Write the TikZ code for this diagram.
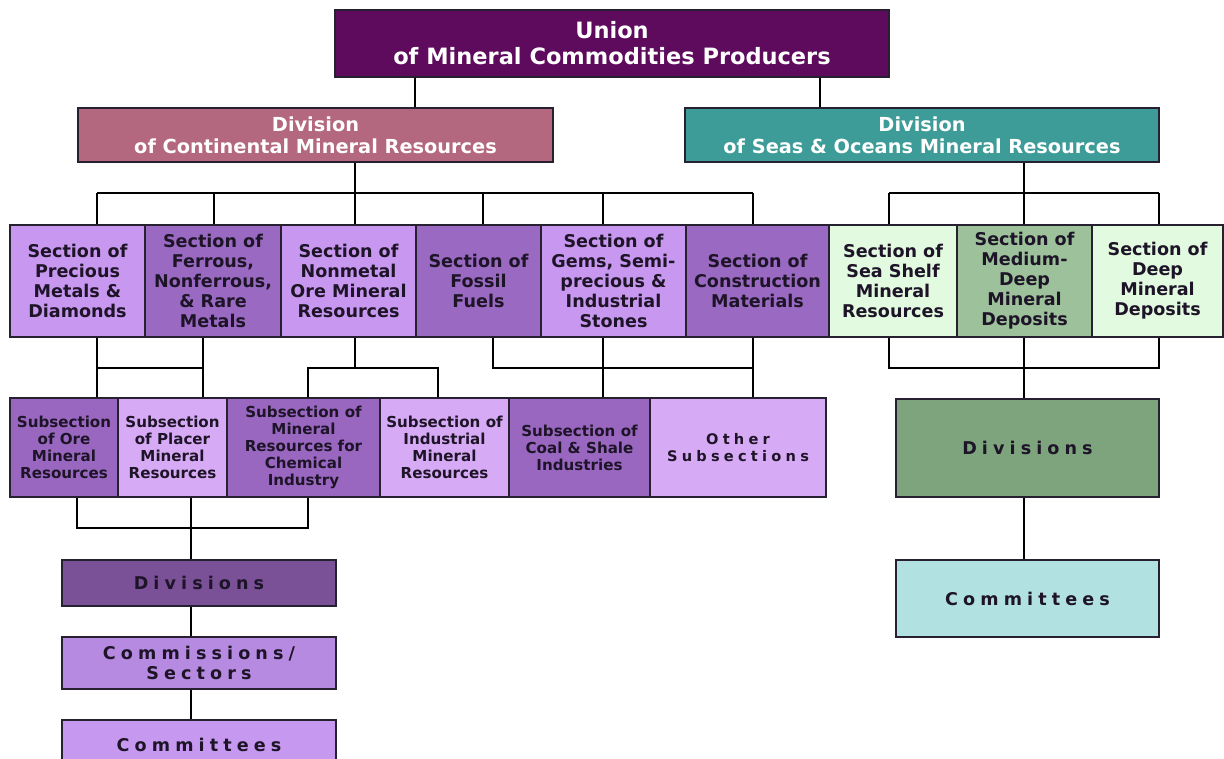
\documentclass[tikz,border=0pt]{standalone}
\usepackage{fontspec}
\setmainfont{DejaVu Sans}
\newfontfamily\spacedfont[LetterSpace=29]{DejaVu Sans}

\definecolor{edge}{HTML}{262030}
\definecolor{ink}{HTML}{1E1428}
\definecolor{union}{HTML}{5E0B5E}
\definecolor{contdiv}{HTML}{B4687F}
\definecolor{seadiv}{HTML}{3E9C98}
\definecolor{lightsec}{HTML}{C898F0}
\definecolor{darksec}{HTML}{9A6AC2}
\definecolor{lightsub}{HTML}{D7AAF5}
\definecolor{darksub}{HTML}{9967C0}
\definecolor{paledeep}{HTML}{E2FADF}
\definecolor{middeep}{HTML}{9DC19A}
\definecolor{divleft}{HTML}{7A5097}
\definecolor{commleft}{HTML}{B68AE0}
\definecolor{cmteleft}{HTML}{C798F0}
\definecolor{divright}{HTML}{7EA47E}
\definecolor{cmteright}{HTML}{B1E1E1}

\begin{document}
\begin{tikzpicture}[x=0.02cm, y=-0.02cm,
  every node/.style={draw=edge, line width=0.8pt, align=center,
    inner sep=1pt, text=ink},
  wh/.style 2 args={minimum width=#1*0.02cm, minimum height=#2*0.02cm},
  headbox/.style={fill=union, text=white,
    font=\fontsize{12.8}{14.8}\selectfont\bfseries},
  divbox/.style={text=white, font=\fontsize{11}{12.5}\selectfont\bfseries},
  secbox/.style={font=\fontsize{10}{11.4}\selectfont\bfseries},
  subbox/.style={font=\fontsize{8.6}{9.7}\selectfont\bfseries},
  spacedbox/.style={font=\spacedfont\fontsize{10}{11.6}\selectfont\bfseries},
  link/.style={draw=black, line width=1.4pt}]
  \useasboundingbox (0,0) rectangle (1224,758);

  \node[headbox, wh={554}{67}] (union) at (612,43.5)
    {Union\\of Mineral Commodities Producers};
  \node[divbox, fill=contdiv, wh={475}{54}] (contdiv) at (315.5,135)
    {Division\\of Continental Mineral Resources};
  \node[divbox, fill=seadiv, wh={474}{54}] (seadiv) at (922,135)
    {Division\\of Seas \& Oceans Mineral Resources};

  \node[secbox, fill=lightsec, wh={135}{112}] (precious) at (77.5,281)
    {Section of\\Precious\\Metals \&\\Diamonds};
  \node[secbox, fill=darksec, wh={136}{112}] (ferrous) at (213,281)
    {Section of\\Ferrous,\\Nonferrous,\\\& Rare\\Metals};
  \node[secbox, fill=lightsec, wh={135}{112}] (nonmetal) at (348.5,281)
    {Section of\\Nonmetal\\Ore Mineral\\Resources};
  \node[secbox, fill=darksec, wh={125}{112}] (fossil) at (478.5,281)
    {Section of\\Fossil\\Fuels};
  \node[secbox, fill=lightsec, wh={145}{112}] (gems) at (613.5,281)
    {Section of\\Gems, Semi-\\precious \&\\Industrial\\Stones};
  \node[secbox, fill=darksec, wh={143}{112}] (constr) at (757.5,281)
    {Section of\\Construction\\Materials};
  \node[secbox, fill=paledeep, wh={128}{112}] (shelf) at (893,281)
    {Section of\\Sea Shelf\\Mineral\\Resources};
  \node[secbox, fill=middeep, wh={135}{112}] (medium) at (1024.5,281)
    {Section of\\Medium-\\Deep\\Mineral\\Deposits};
  \node[secbox, fill=paledeep, wh={131}{112}] (deep) at (1157.5,281)
    {Section of\\Deep\\Mineral\\Deposits};

  \node[subbox, fill=darksub, wh={108}{99}] (ore) at (64,447.5)
    {Subsection\\of Ore\\Mineral\\Resources};
  \node[subbox, fill=lightsub, wh={109}{99}] (placer) at (172.5,447.5)
    {Subsection\\of Placer\\Mineral\\Resources};
  \node[subbox, fill=darksub, wh={153}{99}] (chem) at (303.5,447.5)
    {Subsection of\\Mineral\\Resources for\\Chemical\\Industry};
  \node[subbox, fill=lightsub, wh={129}{99}] (indus) at (444.5,447.5)
    {Subsection of\\Industrial\\Mineral\\Resources};
  \node[subbox, fill=darksub, wh={141}{99}] (coal) at (579.5,447.5)
    {Subsection of\\Coal \& Shale\\Industries};
  \node[spacedbox, fill=lightsub, wh={176}{99},
    font=\spacedfont\fontsize{8.3}{10}\selectfont\bfseries] (other) at (738,447.5)
    {Other\\Subsections};

  \node[spacedbox, fill=divleft, wh={274}{46}] (ldiv) at (199,583) {Divisions};
  \node[spacedbox, fill=commleft, wh={274}{52}] (lcomm) at (199,663)
    {Commissions/\\Sectors};
  \node[spacedbox, fill=cmteleft, wh={274}{50}] (lcmte) at (199,745) {Committees};

  \node[spacedbox, fill=divright, wh={263}{98}] (rdiv) at (1027.5,448) {Divisions};
  \node[spacedbox, fill=cmteright, wh={263}{77}] (rcmte) at (1027.5,598.5) {Committees};

  \draw[link] (union.south -| 415,0) -- (contdiv.north -| 415,0);
  \draw[link] (union.south -| 820,0) -- (seadiv.north -| 820,0);

  \draw[link] (contdiv.south -| 355,0) -- (355,193);
  \draw[link] (97,193) -- (753,193);
  \foreach \n/\x in {precious/97, ferrous/214, nonmetal/355, fossil/483, gems/603, constr/753}
    \draw[link] (\x,193) -- (\n.north -| \x,0);
  \draw[link] (seadiv.south -| 1024,0) -- (1024,193);
  \draw[link] (889,193) -- (1159,193);
  \foreach \n/\x in {shelf/889, medium/1024, deep/1159}
    \draw[link] (\x,193) -- (\n.north -| \x,0);

  \draw[link] (precious.south -| 97,0) -- (ore.north -| 97,0);
  \draw[link] (ferrous.south -| 203,0) -- (placer.north -| 203,0);
  \draw[link] (97,368) -- (203,368);
  \draw[link] (nonmetal.south -| 355,0) -- (355,368);
  \draw[link] (chem.north -| 308,0) |- (438,368) -- (indus.north -| 438,0);
  \draw[link] (fossil.south -| 493,0) |- (753,368);
  \draw[link] (gems.south -| 603,0) -- (coal.north -| 603,0);
  \draw[link] (constr.south -| 753,0) -- (other.north -| 753,0);
  \draw[link] (shelf.south -| 889,0) |- (1159,368) -- (deep.south -| 1159,0);
  \draw[link] (medium.south -| 1024,0) -- (rdiv.north -| 1024,0);

  \draw[link] (ore.south -| 77,0) |- (308,528) -- (chem.south -| 308,0);
  \draw[link] (placer.south -| 191,0) -- (ldiv.north -| 191,0);
  \draw[link] (ldiv.south -| 191,0) -- (lcomm.north -| 191,0);
  \draw[link] (lcomm.south -| 191,0) -- (lcmte.north -| 191,0);
  \draw[link] (rdiv.south -| 1024,0) -- (rcmte.north -| 1024,0);
\end{tikzpicture}
\end{document}
